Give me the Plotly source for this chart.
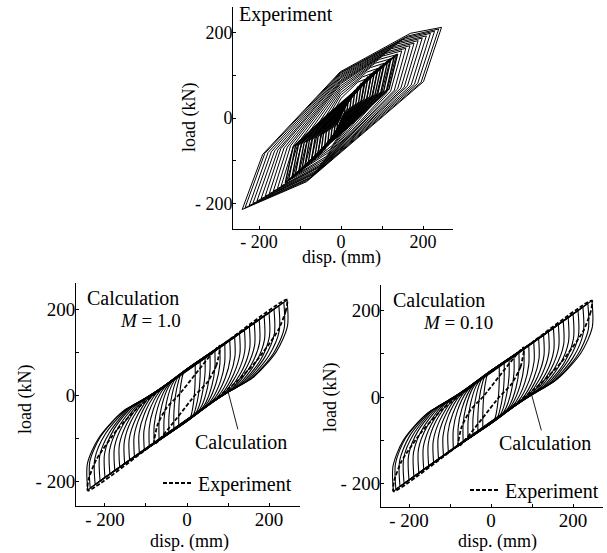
import plotly.graph_objects as go

FONT = "Liberation Serif, Times New Roman, serif"
FS = 18
FS_LAB = 20

# ---------------- data (read / estimated from the picture) ----------------
# Experiment: small, slender cycles in the dense centre band (disp mm, load kN)
exp_inner_loops = [
    [(10, 31), (9, 14), (2, 0), (-10, -31), (-9, -14), (-2, 0), (10, 31)],
    [(18, 44), (15, 20), (3, 0), (-18, -44), (-15, -20), (-3, 0), (18, 44)],
    [(26, 55), (22, 25), (5, 0), (-26, -56), (-22, -25), (-5, 0), (26, 55)],
    [(34, 65), (29, 29), (6, 0), (-33, -66), (-29, -29), (-6, 0), (34, 65)],
    [(42, 74), (36, 33), (8, 0), (-41, -75), (-36, -33), (-8, 0), (42, 74)],
    [(50, 82), (43, 37), (10, 0), (-49, -83), (-43, -37), (-10, 0), (50, 82)],
    [(58, 89), (49, 40), (12, 0), (-57, -90), (-49, -40), (-12, 0), (58, 89)],
    [(66, 97), (56, 44), (15, 0), (-65, -98), (-56, -44), (-15, 0), (66, 97)],
    [(74, 103), (63, 46), (17, 0), (-73, -104), (-63, -46), (-17, 0), (74, 103)],
    [(82, 110), (70, 50), (20, 0), (-81, -111), (-70, -50), (-20, 0), (82, 110)],
    [(90, 116), (77, 52), (22, 0), (-89, -117), (-77, -52), (-22, 0), (90, 116)],
    [(98, 122), (83, 55), (25, 0), (-96, -123), (-83, -55), (-25, 0), (98, 122)],
    [(106, 128), (90, 58), (28, 0), (-104, -129), (-90, -58), (-28, 0), (106, 128)],
    [(114, 134), (97, 60), (31, 0), (-112, -135), (-97, -60), (-31, 0), (114, 134)],
    [(122, 140), (104, 63), (35, 0), (-120, -141), (-104, -63), (-35, 0), (122, 140)],
    [(130, 145), (111, 65), (38, 0), (-128, -146), (-111, -65), (-38, 0), (130, 145)],
    [(138, 150), (117, 68), (42, 0), (-136, -152), (-117, -68), (-42, 0), (138, 150)],
]
# Experiment: larger cycles
exp_outer_loops = [
    [(60, 91), (49, 36), (-21, -64), (-59, -92), (-47, -36), (0, 46), (41, 84), (60, 91)],
    [(75, 104), (62, 42), (-26, -73), (-74, -105), (-59, -42), (-1, 53), (52, 96), (75, 104)],
    [(90, 116), (74, 46), (-31, -81), (-89, -117), (-70, -46), (-1, 59), (62, 107), (90, 116)],
    [(105, 128), (86, 51), (-36, -90), (-103, -129), (-82, -51), (-1, 65), (72, 118), (105, 128)],
    [(120, 138), (98, 55), (-41, -97), (-118, -139), (-94, -55), (-1, 70), (83, 128), (120, 138)],
    [(135, 148), (111, 59), (-46, -104), (-133, -149), (-105, -59), (-1, 75), (93, 137), (135, 148)],
    [(148, 157), (121, 63), (-51, -110), (-146, -159), (-115, -63), (-1, 80), (102, 145), (148, 157)],
    [(158, 163), (130, 65), (-54, -114), (-155, -165), (-123, -65), (-1, 83), (109, 151), (158, 163)],
    [(168, 169), (138, 68), (-58, -118), (-165, -171), (-131, -68), (-1, 86), (116, 156), (168, 169)],
    [(178, 175), (146, 70), (-61, -123), (-175, -177), (-139, -70), (-1, 89), (123, 162), (178, 175)],
    [(188, 181), (154, 72), (-64, -127), (-185, -183), (-147, -72), (-2, 92), (130, 167), (188, 181)],
    [(198, 187), (162, 75), (-68, -131), (-195, -189), (-154, -75), (-2, 95), (137, 173), (198, 187)],
    [(208, 192), (171, 77), (-71, -134), (-205, -194), (-162, -77), (-2, 98), (144, 178), (208, 192)],
    [(218, 198), (179, 79), (-75, -139), (-215, -200), (-170, -79), (-2, 101), (150, 183), (218, 198)],
    [(228, 203), (187, 81), (-78, -142), (-224, -205), (-178, -81), (-2, 104), (157, 188), (228, 203)],
    [(238, 208), (195, 83), (-82, -146), (-234, -210), (-186, -83), (-2, 106), (164, 192), (238, 208)],
    [(245, 212), (201, 85), (-84, -149), (-241, -214), (-191, -85), (-2, 108), (169, 198), (245, 212)],
]

# Calculation M = 1.0: cycles (unloading branch = first 6 points, reloading = last 6)
calc_m10_loops = [
    [(20, 73), (20, 37), (18, 1), (13, -35), (8, -52), (-20, -73), (-20, -37), (-18, -1), (-13, 35), (-8, 52), (20, 73)],
    [(32, 81), (32, 43), (29, 7), (21, -31), (14, -49), (-32, -81), (-32, -43), (-29, -7), (-21, 31), (-14, 49), (32, 81)],
    [(44, 89), (44, 50), (39, 12), (29, -27), (19, -46), (-44, -89), (-44, -50), (-39, -12), (-29, 27), (-19, 46), (44, 89)],
    [(56, 97), (56, 57), (50, 17), (37, -23), (24, -42), (-56, -97), (-56, -57), (-50, -17), (-37, 23), (-24, 42), (56, 97)],
    [(68, 105), (68, 63), (61, 23), (45, -19), (29, -39), (-68, -105), (-68, -63), (-61, -23), (-45, 19), (-29, 39), (68, 105)],
    [(80, 113), (80, 70), (71, 28), (52, -15), (34, -36), (-80, -113), (-80, -70), (-71, -28), (-52, 15), (-34, 36), (80, 113)],
    [(92, 121), (92, 76), (82, 33), (60, -11), (39, -32), (-92, -121), (-92, -76), (-82, -33), (-60, 11), (-39, 32), (92, 121)],
    [(104, 129), (105, 83), (93, 39), (68, -7), (44, -29), (-104, -129), (-105, -83), (-93, -39), (-68, 7), (-44, 29), (104, 129)],
    [(116, 137), (117, 90), (104, 44), (76, -3), (49, -26), (-116, -137), (-117, -90), (-104, -44), (-76, 3), (-49, 26), (116, 137)],
    [(128, 145), (129, 96), (114, 49), (84, 1), (54, -22), (-128, -145), (-129, -96), (-114, -49), (-84, -1), (-54, 22), (128, 145)],
    [(140, 152), (141, 103), (125, 55), (92, 5), (59, -19), (-140, -152), (-141, -103), (-125, -55), (-92, -5), (-59, 19), (140, 152)],
    [(152, 160), (153, 109), (136, 60), (100, 9), (64, -16), (-152, -160), (-153, -109), (-136, -60), (-100, -9), (-64, 16), (152, 160)],
    [(164, 168), (165, 116), (146, 65), (108, 13), (69, -12), (-164, -168), (-165, -116), (-146, -65), (-108, -13), (-69, 12), (164, 168)],
    [(176, 176), (177, 122), (157, 71), (115, 17), (74, -9), (-176, -176), (-177, -122), (-157, -71), (-115, -17), (-74, 9), (176, 176)],
    [(188, 184), (189, 129), (168, 76), (123, 21), (79, -6), (-188, -184), (-189, -129), (-168, -76), (-123, -21), (-79, 6), (188, 184)],
    [(200, 192), (201, 136), (179, 81), (131, 25), (84, -2), (-200, -192), (-201, -136), (-179, -81), (-131, -25), (-84, 2), (200, 192)],
    [(212, 200), (213, 142), (189, 87), (139, 29), (89, 1), (-212, -200), (-213, -142), (-189, -87), (-139, -29), (-89, -1), (212, 200)],
    [(224, 208), (225, 149), (200, 92), (147, 33), (95, 4), (-224, -208), (-225, -149), (-200, -92), (-147, -33), (-95, -4), (224, 208)],
    [(236, 216), (237, 155), (211, 97), (155, 37), (100, 8), (-236, -216), (-237, -155), (-211, -97), (-155, -37), (-100, -8), (236, 216)],
    [(244, 221), (245, 160), (218, 101), (160, 40), (103, 10), (-242, -221), (-243, -160), (-216, -101), (-158, -40), (-101, -10), (244, 221)],
]

# Calculation M = 0.10
calc_m010_loops = [
    [(20, 72), (20, 36), (18, 0), (13, -36), (8, -53), (-20, -72), (-20, -36), (-18, 0), (-13, 36), (-8, 53), (20, 72)],
    [(32, 80), (32, 42), (29, 6), (21, -32), (14, -50), (-32, -80), (-32, -42), (-29, -6), (-21, 32), (-14, 50), (32, 80)],
    [(44, 88), (44, 49), (39, 11), (29, -28), (19, -47), (-44, -88), (-44, -49), (-39, -11), (-29, 28), (-19, 47), (44, 88)],
    [(56, 96), (56, 56), (50, 16), (37, -24), (24, -43), (-56, -96), (-56, -56), (-50, -16), (-37, 24), (-24, 43), (56, 96)],
    [(68, 104), (68, 62), (61, 22), (45, -20), (29, -40), (-68, -104), (-68, -62), (-61, -22), (-45, 20), (-29, 40), (68, 104)],
    [(80, 112), (80, 69), (71, 27), (52, -16), (34, -37), (-80, -112), (-80, -69), (-71, -27), (-52, 16), (-34, 37), (80, 112)],
    [(92, 120), (92, 75), (82, 32), (60, -12), (39, -33), (-92, -120), (-92, -75), (-82, -32), (-60, 12), (-39, 33), (92, 120)],
    [(104, 128), (105, 82), (93, 38), (68, -8), (44, -30), (-104, -128), (-105, -82), (-93, -38), (-68, 8), (-44, 30), (104, 128)],
    [(116, 136), (117, 89), (104, 43), (76, -4), (49, -27), (-116, -136), (-117, -89), (-104, -43), (-76, 4), (-49, 27), (116, 136)],
    [(128, 144), (129, 95), (114, 48), (84, 0), (54, -23), (-128, -144), (-129, -95), (-114, -48), (-84, 0), (-54, 23), (128, 144)],
    [(140, 152), (141, 102), (125, 54), (92, 4), (59, -20), (-140, -152), (-141, -102), (-125, -54), (-92, -4), (-59, 20), (140, 152)],
    [(152, 160), (153, 108), (136, 59), (100, 8), (64, -17), (-152, -160), (-153, -108), (-136, -59), (-100, -8), (-64, 17), (152, 160)],
    [(164, 168), (165, 115), (146, 64), (108, 12), (69, -13), (-164, -168), (-165, -115), (-146, -64), (-108, -12), (-69, 13), (164, 168)],
    [(176, 176), (177, 121), (157, 70), (115, 16), (74, -10), (-176, -176), (-177, -121), (-157, -70), (-115, -16), (-74, 10), (176, 176)],
    [(188, 184), (189, 128), (168, 75), (123, 20), (79, -7), (-188, -184), (-189, -128), (-168, -75), (-123, -20), (-79, 7), (188, 184)],
    [(200, 192), (201, 135), (179, 80), (131, 24), (84, -3), (-200, -192), (-201, -135), (-179, -80), (-131, -24), (-84, 3), (200, 192)],
    [(212, 200), (213, 141), (189, 86), (139, 28), (89, 0), (-212, -200), (-213, -141), (-189, -86), (-139, -28), (-89, 0), (212, 200)],
    [(224, 208), (225, 148), (200, 91), (147, 32), (95, 3), (-222, -207), (-223, -148), (-199, -91), (-146, -32), (-94, -3), (224, 208)],
    [(236, 216), (237, 155), (211, 97), (155, 37), (100, 8), (-232, -213), (-233, -154), (-209, -96), (-153, -36), (-99, -7), (236, 216)],
    [(246, 223), (247, 162), (220, 103), (162, 42), (104, 11), (-238, -218), (-239, -160), (-214, -100), (-157, -39), (-100, -9), (246, 223)],
]

# dashed experimental curves drawn over the calculation panels
exp_overlay_m10 = [
    [(244, 222), (241, 196), (222, 150), (170, 80), (120, 30), (40, -31), (-60, -98), (-242, -222),
     (-240, -196), (-221, -150), (-170, -80), (-120, -30), (-40, 31), (60, 98), (244, 222)],
    [(80, 115), (72, 70), (50, 30), (20, 0), (-80, -115), (-72, -70), (-50, -30), (-20, 0), (80, 115)],
]
exp_overlay_m010 = [
    [(246, 223), (243, 197), (224, 151), (172, 81), (121, 31), (40, -31), (-60, -98), (-238, -218),
     (-236, -193), (-218, -148), (-168, -79), (-119, -29), (-40, 31), (60, 98), (246, 223)],
    [(80, 115), (72, 70), (50, 30), (20, 0), (-80, -115), (-72, -70), (-50, -30), (-20, 0), (80, 115)],
]

tick_vals = [-200, -100, 0, 100, 200]
tick_text = ["- 200", "", "0", "", "200"]


def polyline(loops):
    xs, ys = [], []
    for loop in loops:
        for (px, py) in loop:
            xs.append(px)
            ys.append(py)
        xs.append(None)
        ys.append(None)
    return xs, ys


def branches(loops):
    xs, ys = [], []
    for loop in loops:
        for seg in (loop[:6], loop[5:]):
            for (px, py) in seg:
                xs.append(px)
                ys.append(py)
            xs.append(None)
            ys.append(None)
    return xs, ys


fig = go.Figure()

# top: experiment
for loops, lw in [(exp_outer_loops, 1), (exp_inner_loops, 1.4)]:
    ex, ey = polyline(loops)
    fig.add_trace(go.Scatter(x=ex, y=ey, mode="lines", xaxis="x", yaxis="y",
                             line=dict(color="black", width=lw), showlegend=False, hoverinfo="skip"))

for loops, overlay, xa, ya, leg in [(calc_m10_loops, exp_overlay_m10, "x2", "y2", "legend"),
                                    (calc_m010_loops, exp_overlay_m010, "x3", "y3", "legend2")]:
    cx, cy = branches(loops)
    fig.add_trace(go.Scatter(x=cx, y=cy, mode="lines", xaxis=xa, yaxis=ya,
                             line=dict(color="black", width=1.1, shape="spline", smoothing=0.8),
                             showlegend=False, hoverinfo="skip"))
    ox, oy = polyline(overlay)
    fig.add_trace(go.Scatter(x=ox, y=oy, mode="lines", xaxis=xa, yaxis=ya, name="Experiment",
                             line=dict(color="black", width=1.8, dash="4px,2px", shape="spline", smoothing=0.6),
                             showlegend=True, legend=leg, hoverinfo="skip"))

W, H = 607, 553
axis_common = dict(showline=True, linecolor="black", linewidth=1, ticks="inside", ticklen=3,
                   tickcolor="black", tickvals=tick_vals, ticktext=tick_text, showgrid=False,
                   zeroline=False, ticklabelstandoff=-4)
top_ax = dict(axis_common, tickfont=dict(family=FONT, size=FS, color="black"))
bot_ax = dict(axis_common, tickfont=dict(family=FONT, size=19, color="black"))

fig.update_layout(
    width=W, height=H, margin=dict(l=0, r=0, t=0, b=0),
    paper_bgcolor="white", plot_bgcolor="white",
    font=dict(family=FONT, size=FS, color="black"),
    xaxis=dict(domain=[233 / W, 453 / W], range=[-263.4, 273], anchor="y", **top_ax),
    yaxis=dict(domain=[1 - 229 / H, 1 - 7 / H], range=[-259.6, 259.6], anchor="x", **top_ax),
    xaxis2=dict(domain=[76 / W, 300 / W], range=[-270.7, 275.6], anchor="y2", **bot_ax),
    yaxis2=dict(domain=[1 - 506 / H, 1 - 283 / H], range=[-258.1, 260.5], anchor="x2", **bot_ax),
    xaxis3=dict(domain=[381 / W, 603 / W], range=[-268.3, 273], anchor="y3", **bot_ax),
    yaxis3=dict(domain=[1 - 507 / H, 1 - 285 / H], range=[-254.3, 259], anchor="x3", **bot_ax),
    legend=dict(x=158 / W, y=1 - 483 / H, xanchor="left", yanchor="middle", bgcolor="rgba(0,0,0,0)",
                font=dict(family=FONT, size=FS_LAB), itemwidth=30),
    legend2=dict(x=465 / W, y=1 - 490 / H, xanchor="left", yanchor="middle", bgcolor="rgba(0,0,0,0)",
                 font=dict(family=FONT, size=FS_LAB), itemwidth=30),
)


def pa(text, px, py, xanchor="center", angle=0, size=FS):
    return dict(text=text, x=px / W, y=1 - py / H, xref="paper", yref="paper", showarrow=False,
                xanchor=xanchor, yanchor="middle", textangle=angle,
                font=dict(family=FONT, size=size, color="black"))


annotations = [
    pa("load (kN)", 189, 118, angle=-90),
    pa("disp. (mm)", 341, 257),
    pa("Experiment", 237, 15, xanchor="left", size=FS_LAB),
    pa("load (kN)", 25, 399, angle=-90),
    pa("disp. (mm)", 189, 541),
    pa("Calculation", 85, 298, xanchor="left", size=FS_LAB),
    pa("<i>M</i> = 1.0", 118, 320, xanchor="left", size=19),
    pa("load (kN)", 330, 398, angle=-90),
    pa("disp. (mm)", 497, 541),
    pa("Calculation", 391, 300, xanchor="left", size=FS_LAB),
    pa("<i>M</i> = 0.10", 421, 322, xanchor="left", size=19),
    dict(text="Calculation", x=98, y=16, xref="x2", yref="y2", ax=132, ay=-109, axref="x2", ayref="y2",
         showarrow=True, arrowhead=0, arrowwidth=0.9, arrowcolor="black", standoff=0,
         font=dict(family=FONT, size=FS_LAB, color="black")),
    dict(text="Calculation", x=97, y=12, xref="x3", yref="y3", ax=131, ay=-106, axref="x3", ayref="y3",
         showarrow=True, arrowhead=0, arrowwidth=0.9, arrowcolor="black", standoff=0,
         font=dict(family=FONT, size=FS_LAB, color="black")),
]
fig.update_layout(annotations=annotations)

fig.write_html("out.html", config={"displayModeBar": False},
               post_script="document.body.style.margin='0';")
